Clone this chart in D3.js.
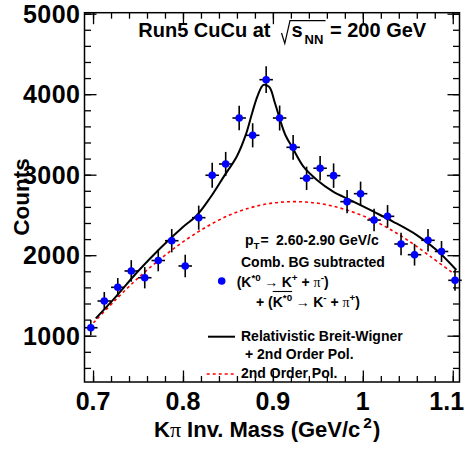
<!DOCTYPE html>
<html>
<head>
<meta charset="utf-8">
<script src="https://cdn.jsdelivr.net/npm/d3@7"></script>
<style>
  body { margin: 0; background: #fff; }
  svg { display: block; }
  text { font-family: "Liberation Sans", Arial, Helvetica, sans-serif; font-weight: bold; fill: #000; white-space: pre; }
</style>
</head>
<body>
<svg width="468" height="449"></svg>
<script>
// Kπ invariant mass bins (bin centres) and counts
var massBins = [0.6975, 0.7125, 0.7275, 0.7425, 0.7575, 0.7725, 0.7875, 0.8025, 0.8175, 0.8325,
                0.8475, 0.8625, 0.8775, 0.8925, 0.9075, 0.9225, 0.9375, 0.9525, 0.9675, 0.9825,
                0.9975, 1.0125, 1.0275, 1.0425, 1.0575, 1.0725, 1.0875, 1.1025];
var counts   = [1099, 1431, 1601, 1804, 1720, 1934, 2180, 1866, 2466, 2993,
                3133, 3704, 3489, 4180, 3704, 3340, 2955, 3080, 2988, 2665,
                2764, 2437, 2483, 2139, 2006, 2185, 2046, 1688];
var countErr = [95, 112, 115, 134, 132, 134, 145, 140, 150, 155,
                150, 153, 150, 166, 155, 153, 145, 152, 152, 145,
                150, 140, 140, 140, 135, 140, 130, 130];
var binHalf = 0.0075;

// fit curves
var bwFitX = [0.703, 0.725, 0.75, 0.775, 0.80, 0.815, 0.83, 0.845, 0.86, 0.87, 0.877, 0.883,
              0.8895, 0.896, 0.902, 0.908, 0.914, 0.922, 0.934, 0.949, 0.967, 0.986, 1.012,
              1.034, 1.06, 1.082, 1.104];
var bwFitY = [1215, 1480, 1800, 2090, 2350, 2490, 2710, 2970, 3230, 3500, 3770, 3980,
              4115, 4090, 3900, 3680, 3490, 3330, 3100, 2935, 2790, 2685, 2540,
              2415, 2250, 2065, 1816];
var polFitX = [0.7005, 0.725, 0.75, 0.775, 0.80, 0.825, 0.85, 0.875, 0.90, 0.925, 0.95,
               0.975, 1.00, 1.025, 1.05, 1.075, 1.1005];
var polFitY = [1160, 1445, 1715, 1955, 2165, 2345, 2490, 2590, 2648, 2665, 2645,
               2585, 2490, 2355, 2185, 1985, 1775];

var xTickValues = [0.7, 0.8, 0.9, 1.0, 1.1];
var xTickLabels = ["0.7", "0.8", "0.9", "1", "1.1"];
var yTickValues = [1000, 2000, 3000, 4000, 5000];
var yTickLabels = ["1000", "2000", "3000", "4000", "5000"];

var svg = d3.select("svg");
var frameL = 84.5, frameR = 459.5, frameT = 12.7, frameB = 382;

var x = d3.scaleLinear().domain([0.6905, 1.1075]).range([frameL, frameR]);
var y = d3.scaleLinear().domain([425, 5012]).range([frameB, frameT]);

var xMinor = d3.range(0.70, 1.1001, 0.02);
var yMinor = d3.range(600, 5001, 200);

// minor + major ticks on all four sides (pointing inward)
function ticks(axis, tx, ty, vals, size) {
    svg.append("g")
        .attr("transform", "translate(" + tx + "," + ty + ")")
        .call(axis.tickValues(vals).tickSize(-size).tickFormat(""))
        .call(function(g) { g.select(".domain").remove(); })
        .selectAll("line").attr("stroke", "#000").attr("stroke-width", 1.3);
}
ticks(d3.axisBottom(x), 0, frameB, xMinor, 6);
ticks(d3.axisBottom(x), 0, frameB, xTickValues, 11.5);
ticks(d3.axisTop(x), 0, frameT, xMinor, 6);
ticks(d3.axisTop(x), 0, frameT, xTickValues, 11.5);
ticks(d3.axisLeft(y), frameL, 0, yMinor, 6.5);
ticks(d3.axisLeft(y), frameL, 0, yTickValues, 12);
ticks(d3.axisRight(y), frameR, 0, yMinor, 6.5);
ticks(d3.axisRight(y), frameR, 0, yTickValues, 12);

// tick labels (last one nudged so it stays inside the page)
svg.append("g").selectAll("text")
    .data(xTickValues)
    .enter().append("text")
    .attr("x", function(d, i) { return x(d) - (i === xTickValues.length - 1 ? 6 : 0); })
    .attr("y", 409.5)
    .attr("text-anchor", "middle")
    .style("font-size", "25px")
    .text(function(d, i) { return xTickLabels[i]; });

svg.append("g").selectAll("text")
    .data(yTickValues)
    .enter().append("text")
    .attr("x", 80.5)
    .attr("y", function(d) { return y(d) + 9; })
    .attr("text-anchor", "end")
    .style("font-size", "25px")
    .style("letter-spacing", "0.5px")
    .text(function(d, i) { return yTickLabels[i]; });

// frame
svg.append("rect")
    .attr("x", frameL).attr("y", frameT)
    .attr("width", frameR - frameL).attr("height", frameB - frameT)
    .attr("fill", "none").attr("stroke", "#000").attr("stroke-width", 1.5);

// curves
var line = d3.line()
    .x(function(d) { return x(d[0]); })
    .y(function(d) { return y(d[1]); })
    .curve(d3.curveCatmullRom.alpha(0.5));

svg.append("path")
    .datum(d3.zip(polFitX, polFitY))
    .attr("fill", "none")
    .attr("stroke", "#ff0000")
    .attr("stroke-width", 1.6)
    .attr("stroke-dasharray", "3,3")
    .attr("d", line);

svg.append("path")
    .datum(d3.zip(bwFitX, bwFitY))
    .attr("fill", "none")
    .attr("stroke", "#000")
    .attr("stroke-width", 2)
    .attr("d", line);

// data points with error bars
var pts = massBins.map(function(m, i) { return [m, counts[i], countErr[i]]; });
var errs = svg.append("g").attr("stroke", "#000").attr("stroke-width", 1.6);
errs.selectAll(".ev").data(pts).enter().append("line")
    .attr("x1", function(d) { return x(d[0]); })
    .attr("x2", function(d) { return x(d[0]); })
    .attr("y1", function(d) { return y(d[1] - d[2]); })
    .attr("y2", function(d) { return y(d[1] + d[2]); });
errs.selectAll(".eh").data(pts).enter().append("line")
    .attr("x1", function(d) { return x(d[0] - binHalf); })
    .attr("x2", function(d) { return x(d[0] + binHalf); })
    .attr("y1", function(d) { return y(d[1]); })
    .attr("y2", function(d) { return y(d[1]); });
svg.append("g").selectAll("circle").data(pts).enter().append("circle")
    .attr("cx", function(d) { return x(d[0]); })
    .attr("cy", function(d) { return y(d[1]); })
    .attr("r", 3.8)
    .attr("fill", "#0000ff");

// rich text helper: pieces laid out one after another
function rich(x0, y0, size, parts) {
    var cx = x0;
    var out = [];
    parts.forEach(function(p) {
        var fs = p.sub || p.sup ? size * 0.7 : size;
        var dy = p.sub ? size * 0.3 : (p.sup ? -size * 0.42 : 0);
        var t = svg.append("text")
            .attr("x", cx + (p.dx || 0))
            .attr("y", y0 + dy)
            .style("font-size", fs + "px")
            .text(p.t);
        if (p.sym) t.style("font-family", "'Liberation Serif', 'DejaVu Serif', serif").style("font-weight", "normal");
        var w = t.node().getComputedTextLength();
        out.push({x: cx + (p.dx || 0), w: w});
        cx += w + (p.dx || 0);
    });
    return out;
}

// title
rich(138.3, 37.3, 20, [{t: "Run5 CuCu at"}]);
svg.append("path")
    .attr("d", "M281.5,33 L284.8,43.5 L290,20.7 L325.5,20.7")
    .attr("fill", "none").attr("stroke", "#000").attr("stroke-width", 1.2);
rich(291.5, 37.3, 20, [{t: "s"}]);
rich(304.5, 43.6, 13, [{t: "NN"}]);
rich(330, 37.3, 20, [{t: "= 200 GeV"}]);

// axis titles
rich(154, 437, 22, [{t: "K"}, {t: "\u03c0", sym: true}, {t: " Inv. Mass (GeV/c"},
                    {t: "2", sup: true, dx: 3}, {t: ")", dx: 1}]);
svg.append("text")
    .attr("transform", "translate(28.5,197) rotate(-90)")
    .attr("text-anchor", "middle")
    .style("font-size", "22.5px")
    .text("Counts");

// legend
rich(245, 245, 14, [{t: "p"}, {t: "T", sub: true}, {t: "=", dx: 1}]);
rich(276, 245, 14, [{t: "2.60-2.90 GeV/c"}]);
rich(241, 266.7, 14, [{t: "Comb. BG subtracted"}]);
svg.append("circle").attr("cx", 221.7).attr("cy", 281).attr("r", 3.8).attr("fill", "#0000ff");
rich(236.7, 286.7, 14, [{t: "(K"}, {t: "*0", sup: true}, {t: " \u2192 ", sym: true},
                        {t: "K"}, {t: "+", sup: true}, {t: " + "}, {t: "\u03c0", sym: true},
                        {t: "-", sup: true}, {t: ")"}]);
var l4 = rich(256, 307.3, 14, [{t: "+ ("}, {t: "K"}, {t: "*0", sup: true}, {t: " \u2192 ", sym: true},
                        {t: "K"}, {t: "-", sup: true}, {t: " + "}, {t: "\u03c0", sym: true},
                        {t: "+", sup: true}, {t: ")"}]);
svg.append("line")
    .attr("x1", l4[1].x).attr("x2", l4[2].x + l4[2].w)
    .attr("y1", 291.5).attr("y2", 291.5)
    .attr("stroke", "#000").attr("stroke-width", 1.1);

svg.append("line").attr("x1", 208).attr("x2", 235).attr("y1", 336.7).attr("y2", 336.7)
    .attr("stroke", "#000").attr("stroke-width", 2);
rich(241, 340.7, 14, [{t: "Relativistic Breit-Wigner"}]);
rich(245, 359.3, 14, [{t: "+ 2nd Order Pol."}]);
svg.append("line").attr("x1", 206.7).attr("x2", 234).attr("y1", 374).attr("y2", 374)
    .attr("stroke", "#ff0000").attr("stroke-width", 1.6).attr("stroke-dasharray", "3,3");
rich(241, 378.3, 14, [{t: "2nd Order Pol."}]);
</script>
</body>
</html>
